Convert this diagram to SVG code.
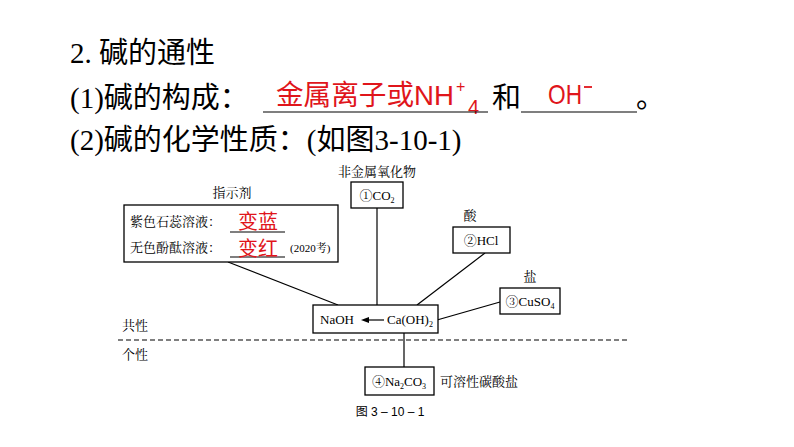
<svg xmlns="http://www.w3.org/2000/svg" width="794" height="447" viewBox="0 0 794 447">
<style>
.h{font-family:"Liberation Serif","Noto Sans CJK SC",serif;font-size:29px;fill:#000}
.r{font-family:"Liberation Sans","Noto Sans CJK SC",sans-serif;font-size:28px;fill:#e0151b}
.s{font-family:"Liberation Serif","Noto Serif CJK SC","Noto Sans CJK SC",serif;font-size:13px;fill:#000}
.b{fill:#fff;stroke:#000;stroke-width:1.3}
.l{stroke:#000;stroke-width:1.2;fill:none}
</style>
<rect width="794" height="447" fill="#fff"/>
<text class="h" x="70" y="63">2.  碱的通性</text>
<text class="h" x="70" y="108">(1)碱的构成：</text>
<text class="h" x="70" y="150">(2)碱的化学性质：(如图3-10-1)</text>
<text class="r" x="276" y="105" textLength="178" lengthAdjust="spacingAndGlyphs">金属离子或NH</text>
<text class="r" x="456" y="92" style="font-size:16px">+</text>
<text class="r" x="468" y="114" style="font-size:20px">4</text>
<text class="h" x="492" y="108">和</text>
<text class="r" x="548" y="104" textLength="34" lengthAdjust="spacingAndGlyphs">OH</text>
<line x1="584" y1="87" x2="592" y2="87" stroke="#e0151b" stroke-width="1.8"/>
<text class="h" x="636" y="108">。</text>
<g class="l"><line x1="263" y1="112" x2="488" y2="112"/><line x1="521" y1="112" x2="637" y2="112"/></g>
<g id="connectors" class="l">
<line x1="228" y1="262" x2="338" y2="305"/>
<line x1="377" y1="208" x2="377" y2="305"/>
<line x1="485" y1="253" x2="417" y2="305"/>
<line x1="500" y1="302" x2="437" y2="320"/>
<line x1="404" y1="333" x2="404" y2="367"/>
<line x1="118" y1="340" x2="630" y2="340" stroke-dasharray="5,3"/>
</g>
<text class="s" x="122" y="330">共性</text>
<text class="s" x="122" y="359">个性</text>
<g id="indicator">
<text class="s" x="232" y="197" text-anchor="middle">指示剂</text>
<rect class="b" x="124" y="205" width="214" height="57"/>
<text class="s" x="130" y="226">紫色石蕊溶液：</text>
<text class="s" x="130" y="252">无色酚酞溶液：</text>
<line class="l" x1="230" y1="232" x2="285" y2="232"/>
<line class="l" x1="230" y1="257" x2="285" y2="257"/>
<text class="r" x="238" y="229" style="font-size:20px;font-family:'Noto Sans CJK SC',sans-serif">变蓝</text>
<text class="r" x="238" y="256" style="font-size:20px;font-family:'Noto Sans CJK SC',sans-serif">变红</text>
<text class="s" x="290" y="252" style="font-size:11px">(2020考)</text>
</g>
<g id="co2">
<text class="s" x="377" y="176" text-anchor="middle">非金属氧化物</text>
<rect class="b" x="351" y="182" width="52" height="26"/>
<text class="s" x="377" y="200" text-anchor="middle">①CO<tspan font-size="8" dy="3">2</tspan></text>
</g>
<g id="hcl">
<text class="s" x="470" y="220" text-anchor="middle">酸</text>
<rect class="b" x="453" y="227" width="57" height="26"/>
<text class="s" x="481" y="245" text-anchor="middle">②HCl</text>
</g>
<g id="cuso4">
<text class="s" x="530" y="281" text-anchor="middle">盐</text>
<rect class="b" x="500" y="288" width="60" height="26"/>
<text class="s" x="530" y="306" text-anchor="middle">③CuSO<tspan font-size="8" dy="3">4</tspan></text>
</g>
<g id="base">
<rect class="b" x="313" y="305" width="125" height="28"/>
<text class="s" x="320" y="324">NaOH</text>
<line class="l" x1="368" y1="320" x2="384" y2="320"/>
<polygon points="361,320 369,317 369,323" fill="#000"/>
<text class="s" x="387" y="324">Ca(OH)<tspan font-size="8" dy="3">2</tspan></text>
</g>
<g id="na2co3">
<rect class="b" x="365" y="367" width="69" height="28"/>
<text class="s" x="399" y="386" text-anchor="middle">④Na<tspan font-size="8" dy="3">2</tspan><tspan dy="-3">CO</tspan><tspan font-size="8" dy="3">3</tspan></text>
<text class="s" x="440" y="386">可溶性碳酸盐</text>
</g>
<text class="s" x="390" y="416" text-anchor="middle" style="font-family:'Liberation Sans','Noto Sans CJK SC',sans-serif;font-size:12px">图 3 – 10 – 1</text>
</svg>
